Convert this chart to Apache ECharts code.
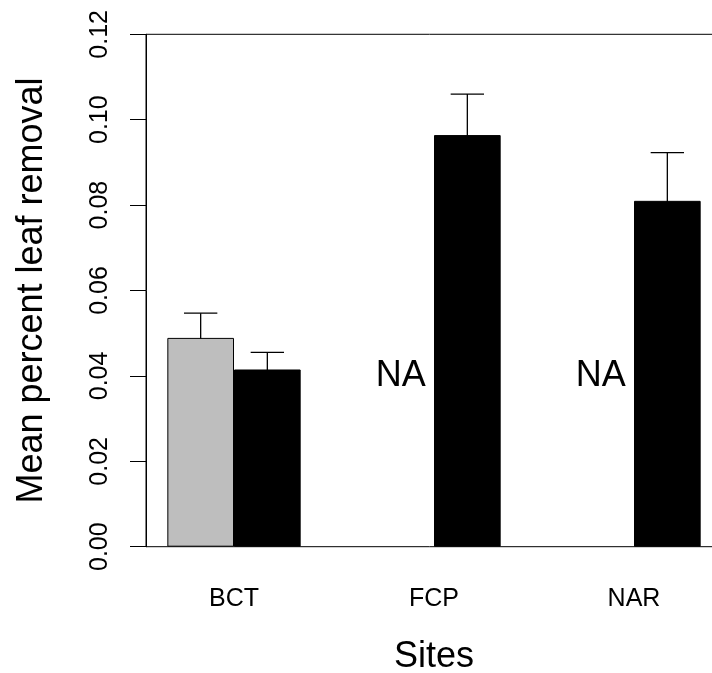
<!DOCTYPE html>
<html>
<head>
<meta charset="utf-8">
<script src="https://cdn.jsdelivr.net/npm/echarts@6/dist/echarts.min.js"></script>
<style>html,body{margin:0;padding:0;background:#fff}#c{width:712px;height:673px}</style>
</head>
<body>
<div id="c"></div>
<script>
// ---- data ----
const sites = ['BCT', 'FCP', 'NAR'];
const controlMean = [0.0489, null, null];
const controlSE = [0.0058, null, null];
const treatMean = [0.0415, 0.0964, 0.0810];
const treatSE = [0.0040, 0.0096, 0.0113];
const yTicks = [0, 0.02, 0.04, 0.06, 0.08, 0.10, 0.12];
const naText = 'NA';
const naLabelY = 0.04;

// ---- layout (R barplot, beside=TRUE, space=c(0,1)) ----
const FONT = 'Liberation Sans, Arial, Helvetica, sans-serif';
const xMin = 1 - 0.04 * 8, xMax = 9 + 0.04 * 8;
const gridLeft = 146, gridTop = 34.3, gridHeight = 512.4;
const gridWidth = 576;
const unitPx = gridWidth / (xMax - xMin);
const ctrlPos = i => 1.5 + 3 * i;
const treatPos = i => 2.5 + 3 * i;
const groupPos = i => 2 + 3 * i;

const barData = [], errData = [], naData = [];
sites.forEach((s, i) => {
  if (controlMean[i] != null) {
    barData.push({ value: [ctrlPos(i), controlMean[i]], itemStyle: { color: '#bebebe' } });
    errData.push([ctrlPos(i), controlMean[i], controlSE[i]]);
  } else {
    naData.push([ctrlPos(i), naLabelY]);
  }
  barData.push({ value: [treatPos(i), treatMean[i]], itemStyle: { color: '#000000' } });
  errData.push([treatPos(i), treatMean[i], treatSE[i]]);
});

const chart = echarts.init(document.getElementById('c'), null, { renderer: 'canvas' });
chart.setOption({
  animation: false,
  backgroundColor: '#ffffff',
  textStyle: { fontFamily: FONT },
  grid: {
    left: gridLeft, top: gridTop, width: gridWidth, height: gridHeight,
    containLabel: false, outerBoundsMode: 'none',
    show: true, borderColor: '#000', borderWidth: 1, backgroundColor: 'transparent'
  },
  xAxis: {
    type: 'value', min: xMin, max: xMax,
    axisLine: { show: false }, axisTick: { show: false }, splitLine: { show: false },
    axisLabel: {
      show: true, customValues: sites.map((s, i) => groupPos(i)),
      formatter: v => sites[Math.round((v - 2) / 3)] || '',
      color: '#000', fontSize: 25, fontFamily: FONT, margin: 40
    },
    name: 'Sites', nameLocation: 'middle', nameGap: 92,
    nameTextStyle: { color: '#000', fontSize: 36, fontFamily: FONT }
  },
  yAxis: {
    type: 'value', min: 0, max: 0.12, interval: 0.02,
    axisLine: { show: true, lineStyle: { color: '#000', width: 1 } },
    axisTick: { show: true, length: 16, lineStyle: { color: '#000', width: 1 } },
    splitLine: { show: false },
    axisLabel: {
      rotate: 90, formatter: v => v.toFixed(2),
      color: '#000', fontSize: 25, fontFamily: FONT, margin: 33
    },
    name: 'Mean percent leaf removal', nameLocation: 'middle', nameGap: 96, nameRotate: 90,
    nameTextStyle: { color: '#000', fontSize: 36, fontFamily: FONT }
  },
  series: [
    {
      type: 'bar', data: barData, barWidth: unitPx,
      itemStyle: { borderColor: '#000', borderWidth: 1 },
      silent: true
    },
    {
      type: 'custom', data: errData, clip: false, silent: true,
      renderItem: (params, api) => {
        const x = api.value(0), m = api.value(1), se = api.value(2);
        const top = api.coord([x, m + se]);
        const bot = api.coord([x, m - se]);
        const hw = unitPx / 4;
        const st = { stroke: '#000', lineWidth: 1.3 };
        return {
          type: 'group', children: [
            { type: 'line', shape: { x1: top[0], y1: top[1], x2: bot[0], y2: bot[1] }, style: st },
            { type: 'line', shape: { x1: top[0] - hw, y1: top[1], x2: top[0] + hw, y2: top[1] }, style: st },
            { type: 'line', shape: { x1: bot[0] - hw, y1: bot[1], x2: bot[0] + hw, y2: bot[1] }, style: st }
          ]
        };
      }
    },
    {
      type: 'custom', data: naData, clip: false, silent: true,
      renderItem: (params, api) => {
        const p = api.coord([api.value(0), api.value(1)]);
        return {
          type: 'text', x: p[0], y: p[1],
          style: { text: naText, fill: '#000', font: '36px ' + FONT, textAlign: 'center', textVerticalAlign: 'middle' }
        };
      }
    }
  ]
});
</script>
</body>
</html>
